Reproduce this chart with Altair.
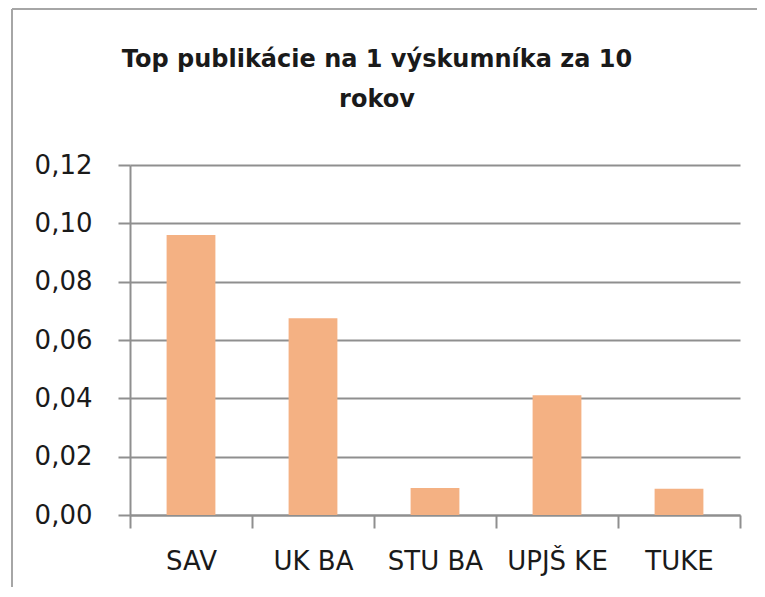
import altair as alt
import pandas as pd

categories = ["SAV", "UK BA", "STU BA", "UPJŠ KE", "TUKE"]
values = [0.096, 0.0675, 0.0093, 0.0411, 0.0090]
y_ticks = [0.0, 0.02, 0.04, 0.06, 0.08, 0.10, 0.12]
title_lines = ["Top publikácie na 1 výskumníka za 10", "rokov"]

df = pd.DataFrame({"inst": categories, "val": values})

FONT = "DejaVu Sans"
TEXT = "#1a1a1a"
GRID = "#8f8f8f"

W, H = 610, 350
PAD = {"left": 122, "top": 157, "right": 17, "bottom": 72}

bars = alt.Chart(df).mark_bar(color="#F4B183", width=alt.RelativeBandSize(0.4)).encode(
    x=alt.X(
        "inst:N",
        sort=categories,
        title=None,
        scale=alt.Scale(paddingInner=0, paddingOuter=0),
        axis=alt.Axis(
            labelAngle=0,
            labelFont=FONT,
            labelFontSize=26,
            labelColor=TEXT,
            labelPadding=20,
            tickBand="extent",
            tickSize=13,
            tickColor=GRID,
            tickWidth=2,
            domainColor=GRID,
            domainWidth=2,
            grid=False,
        ),
    ),
    y=alt.Y(
        "val:Q",
        title=None,
        scale=alt.Scale(domain=[0, 0.12], nice=False),
        axis=alt.Axis(
            values=y_ticks,
            labelExpr="replace(format(datum.value, '.2f'), '.', ',')",
            labelFont=FONT,
            labelFontSize=26,
            labelColor=TEXT,
            labelPadding=26,
            tickSize=12,
            tickColor=GRID,
            tickWidth=2,
            domainColor=GRID,
            domainWidth=2,
            gridColor=GRID,
            gridWidth=2,
        ),
    ),
)

frame_df = pd.DataFrame({"k": [0]})
left_border = alt.Chart(frame_df).mark_rule(color="#a6a6a6", strokeWidth=2).encode(
    x=alt.value(-118), y=alt.value(-156), y2=alt.value(H + PAD["bottom"])
)
top_border = alt.Chart(frame_df).mark_rule(color="#a6a6a6", strokeWidth=2).encode(
    x=alt.value(-118), x2=alt.value(W + PAD["right"]), y=alt.value(-156)
)

title_df = pd.DataFrame({"t": ["\n".join(title_lines)]})
title = alt.Chart(title_df).mark_text(
    font=FONT,
    fontSize=24,
    fontWeight="bold",
    color=TEXT,
    align="center",
    baseline="top",
    lineBreak="\n",
    lineHeight=40,
).encode(
    x=alt.value(247),
    y=alt.value(-117),
    text="t:N",
)

chart = alt.layer(bars, left_border, top_border, title).properties(
    width=W,
    height=H,
    autosize=alt.AutoSizeParams(type="none"),
    padding=PAD,
).configure_view(stroke=None)

chart.save("out.html", embed_options={"renderer": "svg", "actions": False})
